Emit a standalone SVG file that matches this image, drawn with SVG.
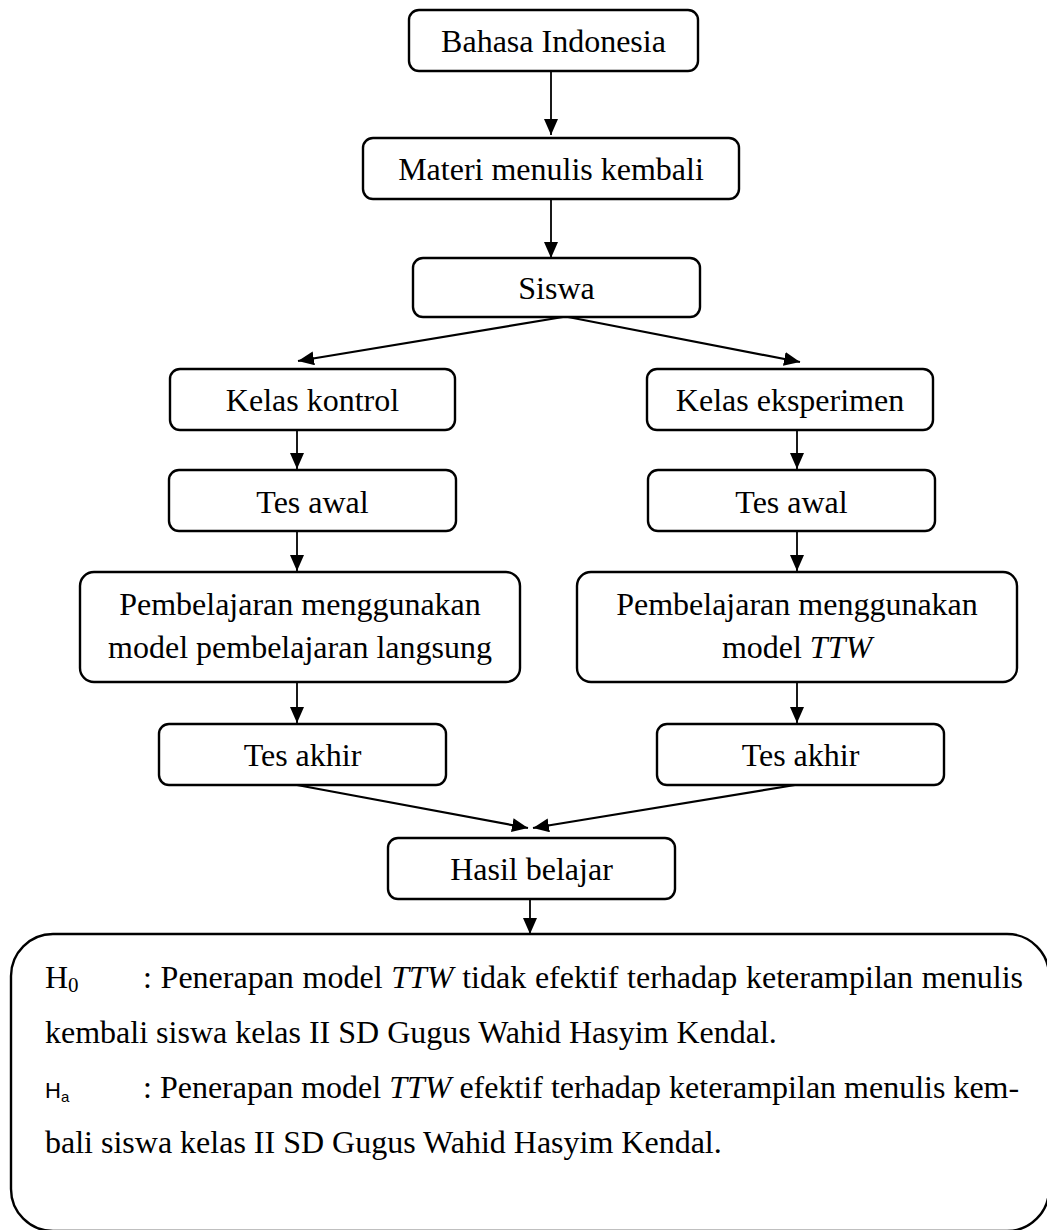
<svg xmlns="http://www.w3.org/2000/svg" width="1047" height="1230" viewBox="0 0 1047 1230">
<style>
.box{fill:#fff;stroke:#000;stroke-width:2.4}
.t{font-family:"Liberation Serif","Times New Roman",serif;font-size:32px;fill:#000}
.c{text-anchor:middle}
.ln{stroke:#000;stroke-width:2.2;fill:none;marker-end:url(#ah)}
.lv{stroke:#000;stroke-width:1.8;fill:none;marker-end:url(#ah)}
</style>
<defs>
<marker id="ah" markerUnits="userSpaceOnUse" markerWidth="18" markerHeight="16" refX="16" refY="7" orient="auto">
<path d="M0,0 L16,7 L0,14 z" fill="#000"/>
</marker>
</defs>
<rect width="1047" height="1230" fill="#fff"/>
<g id="connectors">
<line class="lv" x1="551" y1="71" x2="551" y2="135"/>
<line class="lv" x1="551" y1="199" x2="551" y2="258"/>
<line class="ln" x1="563" y1="317" x2="298" y2="361"/>
<line class="ln" x1="568" y1="317" x2="800" y2="362"/>
<line class="lv" x1="297" y1="430" x2="297" y2="469"/>
<line class="lv" x1="797" y1="430" x2="797" y2="469"/>
<line class="lv" x1="297" y1="531" x2="297" y2="571"/>
<line class="lv" x1="797" y1="531" x2="797" y2="571"/>
<line class="lv" x1="297" y1="683" x2="297" y2="723"/>
<line class="lv" x1="797" y1="683" x2="797" y2="723"/>
<line class="ln" x1="297" y1="785" x2="528" y2="828"/>
<line class="ln" x1="795" y1="785" x2="533" y2="828"/>
<line class="lv" x1="530" y1="899" x2="530" y2="934"/>
</g>
<g id="n-bahasa"><rect class="box" x="409" y="10" width="289" height="61" rx="10"/><text class="t c" x="553.5" y="52">Bahasa Indonesia</text></g>
<g id="n-materi"><rect class="box" x="363" y="138" width="376" height="61" rx="10"/><text class="t c" x="551" y="180">Materi menulis kembali</text></g>
<g id="n-siswa"><rect class="box" x="413" y="258" width="287" height="59" rx="10"/><text class="t c" x="556.5" y="299">Siswa</text></g>
<g id="n-kelas-kontrol"><rect class="box" x="170" y="369" width="285" height="61" rx="10"/><text class="t c" x="312.5" y="411">Kelas kontrol</text></g>
<g id="n-kelas-eksperimen"><rect class="box" x="647" y="369" width="286" height="61" rx="10"/><text class="t c" x="790" y="411">Kelas eksperimen</text></g>
<g id="n-tes-awal-1"><rect class="box" x="169" y="470" width="287" height="61" rx="10"/><text class="t c" x="312.5" y="513">Tes awal</text></g>
<g id="n-tes-awal-2"><rect class="box" x="648" y="470" width="287" height="61" rx="10"/><text class="t c" x="791.5" y="513">Tes awal</text></g>
<g id="n-pemb-1"><rect class="box" x="80" y="572" width="440" height="110" rx="14"/><text class="t c" x="300" y="615">Pembelajaran menggunakan</text><text class="t c" x="300" y="658">model pembelajaran langsung</text></g>
<g id="n-pemb-2"><rect class="box" x="577" y="572" width="440" height="110" rx="14"/><text class="t c" x="797" y="615">Pembelajaran menggunakan</text><text class="t c" x="797" y="658">model <tspan font-style="italic">TTW</tspan></text></g>
<g id="n-tes-akhir-1"><rect class="box" x="159" y="724" width="287" height="61" rx="10"/><text class="t c" x="302.5" y="766">Tes akhir</text></g>
<g id="n-tes-akhir-2"><rect class="box" x="657" y="724" width="287" height="61" rx="10"/><text class="t c" x="800.5" y="766">Tes akhir</text></g>
<g id="n-hasil"><rect class="box" x="388" y="838" width="287" height="61" rx="10"/><text class="t c" x="531.5" y="880">Hasil belajar</text></g>
<g id="n-hipotesis">
<rect class="box" x="11" y="934" width="1038" height="297" rx="42"/>
<text class="t" x="45" y="988">H<tspan font-size="21" dy="4">0</tspan></text>
<text class="t" x="143" y="988" word-spacing="0.7">: Penerapan model <tspan font-style="italic">TTW</tspan> tidak efektif terhadap keterampilan menulis</text>
<text class="t" x="45" y="1043">kembali siswa kelas II SD Gugus Wahid Hasyim Kendal.</text>
<text x="45" y="1098" font-family="Liberation Sans, Arial, sans-serif" font-size="22">H<tspan font-size="15" dy="4">a</tspan></text>
<text class="t" x="143" y="1098">: Penerapan model <tspan font-style="italic">TTW</tspan> efektif terhadap keterampilan menulis kem-</text>
<text class="t" x="45" y="1153">bali siswa kelas II SD Gugus Wahid Hasyim Kendal.</text>
</g>
</svg>
